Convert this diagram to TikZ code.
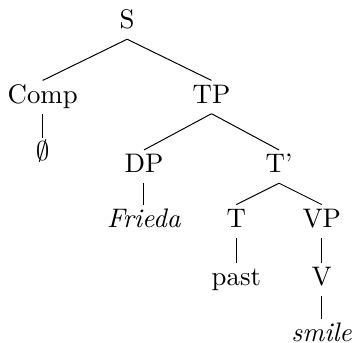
\documentclass[tikz,border=0pt]{standalone}
\begin{document}
\begin{tikzpicture}[
        level 1/.style={level distance=30pt, sibling distance=68pt},
        level 2/.style={level distance=28pt, sibling distance=54.4pt},
        level 3/.style={level distance=22pt, sibling distance=34.4pt},
        level 4/.style={level distance=23.6pt},
        level 5/.style={level distance=22.4pt},
        every node/.style={font=\fontsize{10.8pt}{13pt}\selectfont, text height=7pt, text depth=2pt, inner xsep=0pt, inner ysep=2pt},
        edge from parent path={(\tikzparentnode.south) -- (\tikzchildnode.north)}
    ]
    \useasboundingbox (-51.2pt,-129pt) rectangle (92.6pt,9.1pt);
    \node (S) {S}
        child {node (Comp) {Comp}
            child[level distance=23.2pt] {node (empty) {$\emptyset$}}
        }
        child {node (TP) {TP}
            child {node (DP) {DP}
                child {node (Frieda) {\textit{Frieda}}}
            }
            child {node (Tbar) {T'}
                child {node (T) {T}
                    child {node (past) {past}}
                }
                child {node (VP) {VP}
                    child {node (V) {V}
                        child {node (smile) {\textit{smile}}}
                    }
                }
            }
        };
    \end{tikzpicture}
\end{document}
